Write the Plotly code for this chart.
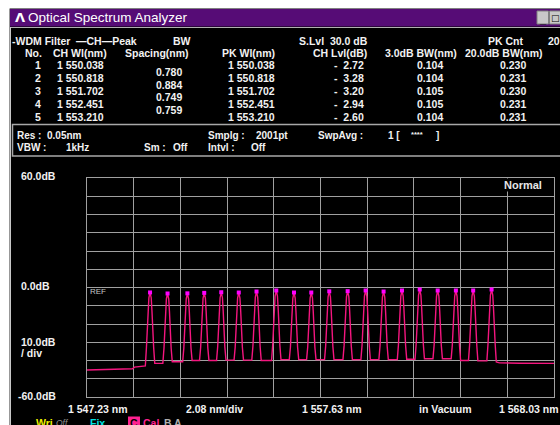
import plotly.graph_objects as go

# ---------------- data ----------------
ch_no = [1, 2, 3, 4, 5]
ch_wl = [1550.038, 1550.818, 1551.702, 1552.451, 1553.210]
spacing = [0.780, 0.884, 0.749, 0.759]
pk_wl_tab = [1550.038, 1550.818, 1551.702, 1552.451, 1553.210]
ch_lvl = [-2.72, -3.28, -3.20, -2.94, -2.60]
bw3 = [0.104, 0.104, 0.105, 0.105, 0.104]
bw20 = [0.230, 0.231, 0.230, 0.231, 0.231]

# 20 detected peaks (wavelength nm, level dB)
peak_wl = [1550.038, 1550.818, 1551.702, 1552.451, 1553.210, 1553.99, 1554.78,
           1555.66, 1556.45, 1557.22, 1558.02, 1558.84, 1559.64, 1560.44,
           1561.26, 1562.05, 1562.85, 1563.66, 1564.43, 1565.25]
peak_db = [-2.72, -3.28, -3.20, -2.94, -2.60, -2.75, -2.2, -1.65, -2.75, -2.75,
           -2.1, -2.0, -1.65, -2.2, -1.65, -1.1, -1.65, -1.65, -1.65, -1.1]
# floor level left of each peak, between peaks, and right of the last one
valley_db = [-43.0, -41.6, -40.7, -40.0, -40.0, -39.8, -39.8, -40.0, -39.5, -39.5,
             -39.5, -39.5, -39.5, -39.5, -39.5, -39.3, -39.0, -39.0, -40.0, -40.2, -40.8]
# peak profile: offset (nm) and level below the peak (dB)
prof_off = [-0.16, -0.115, -0.085, -0.052, 0.0, 0.052, 0.085, 0.115, 0.16]
prof_rel = [-30.0, -20.0, -10.0, -3.0, 0.0, -3.0, -10.0, -20.0, -30.0]
base_half = 0.21
# noise floor outside the channel band
left_floor_wl = [1547.23, 1548.0, 1548.8, 1549.25, 1549.35, 1549.75]
left_floor_db = [-45.2, -45.0, -44.8, -44.5, -43.6, -43.4]
right_floor_wl = [1565.6, 1566.5, 1567.3, 1568.03]
right_floor_db = [-41.3, -41.5, -41.5, -41.6]

x_start, x_stop, x_div = 1547.23, 1568.03, 2.08

# build trace polyline
wl = list(left_floor_wl)
db = list(left_floor_db)
for i, (c, L) in enumerate(zip(peak_wl, peak_db)):
    wl.append(c - base_half); db.append(valley_db[i])
    for o, r in zip(prof_off, prof_rel):
        wl.append(c + o); db.append(L + r)
    wl.append(c + base_half); db.append(valley_db[i + 1])
wl += right_floor_wl
db += right_floor_db

# ---------------- figure ----------------
W, H = 560, 425
L_, R_, T_, B_ = 87, 6, 178, 28
PW, PH = W - L_ - R_, H - T_ - B_

def px(x):                   # page pixel -> paper
    return (x - L_) / PW

def py(y):
    return (H - B_ - y) / PH

FONT = "Liberation Sans Narrow, Liberation Sans, Arial, sans-serif"
WHITE = "#f2f2f2"
GRID = "#a0a0a0"
FS = 10.5

fig = go.Figure()
fig.add_trace(go.Scatter(x=wl, y=db, mode="lines",
                         line=dict(color="#f4167f", width=1.4),
                         hoverinfo="skip", showlegend=False))
fig.add_trace(go.Scatter(x=peak_wl, y=peak_db, mode="markers",
                         marker=dict(symbol="square", size=4, color="#ff00ff", line=dict(width=0)),
                         hoverinfo="skip", showlegend=False))

shapes = []
def rect(x0, y0, x1, y1, fill=None, line=None, lw=1):
    shapes.append(dict(type="rect", xref="paper", yref="paper",
                       x0=px(x0), x1=px(x1), y0=py(y1), y1=py(y0),
                       fillcolor=fill if fill else "rgba(0,0,0,0)",
                       line=dict(color=line if line else "rgba(0,0,0,0)", width=lw if line else 0),
                       layer="below"))
def hline(x0, x1, y, color, lw=1):
    shapes.append(dict(type="line", xref="paper", yref="paper",
                       x0=px(x0), x1=px(x1), y0=py(y), y1=py(y),
                       line=dict(color=color, width=lw), layer="below"))
def vline(x, y0, y1, color, lw=1):
    shapes.append(dict(type="line", xref="paper", yref="paper",
                       x0=px(x), x1=px(x), y0=py(y0), y1=py(y1),
                       line=dict(color=color, width=lw), layer="below"))

# white surroundings
rect(0, 0, W, 8.6, fill="white")
rect(0, 0, 9.6, H, fill="white")
# title bar
rect(10, 9, W, 26.5, fill="#560c76")
hline(10, W, 27.5, "#b0b0b0", 1)
vline(10.5, 27, H, "#c8c8c8", 1)
# window buttons
rect(537, 11, 548.5, 24, fill="#c8c8c8", line="#808080", lw=1)
rect(549.5, 11, 562, 24, fill="#c8c8c8", line="#808080", lw=1)
# info box
rect(12.5, 124.5, 562, 156, line="#a8a8a8", lw=1.5)

ann = []
def txt(x, y, s, size=FS, color=WHITE, anchor="left", bold=True, family=FONT, bg=None):
    d = dict(xref="paper", yref="paper", x=px(x), y=py(y),
             text=("<b>%s</b>" % s) if bold else s, showarrow=False,
             xanchor=anchor, yanchor="middle", borderpad=0,
             font=dict(size=size, color=color, family=family))
    if bg:
        d["bgcolor"] = bg
    ann.append(d)

# title
txt(14, 17.5, "Λ", size=13, color="white", bold=True, family="DejaVu Sans")
txt(27, 17.5, "Optical Spectrum Analyzer", size=13.5, color="white", bold=False,
    family="Liberation Sans, Arial")
txt(543, 19, "_", size=11, color="black", anchor="center", family="Liberation Sans")
txt(555, 17.5, "□", size=9, color="black", anchor="center", family="DejaVu Sans", bold=False)

# table header
txt(11, 41, "-WDM Filter")
txt(75, 41, "—CH—Peak")
txt(182, 41, "BW", anchor="center")
txt(298, 41, "S.Lvl  30.0 dB")
txt(506, 41, "PK Cnt", anchor="center")
txt(547, 41, "20")
txt(33, 53, "No.", anchor="center")
txt(80, 53, "CH Wl(nm)", anchor="center")
txt(157, 53, "Spacing(nm)", anchor="center")
txt(276, 53, "PK Wl(nm)", anchor="right")
txt(368, 53, "CH Lvl(dB)", anchor="right")
txt(421, 53, "3.0dB BW(nm)", anchor="center")
txt(504, 53, "20.0dB BW(nm)", anchor="center")

row_y = [65.5, 78.3, 91.0, 103.8, 116.6]
for i in range(5):
    y = row_y[i]
    txt(38, y, str(ch_no[i]), anchor="center")
    w = "%.3f" % ch_wl[i]
    txt(105, y, w[0] + " " + w[1:], anchor="right")
    p = "%.3f" % pk_wl_tab[i]
    txt(276, y, p[0] + " " + p[1:], anchor="right")
    txt(365, y, "-  %.2f" % abs(ch_lvl[i]), anchor="right")
    txt(430, y, "%.3f" % bw3[i], anchor="center")
    txt(513, y, "%.3f" % bw20[i], anchor="center")
for i in range(4):
    txt(169, (row_y[i] + row_y[i + 1]) / 2, "%.3f" % spacing[i], anchor="center")

# settings box
BS = 10
r1, r2 = 136.0, 147.4
txt(16, r1, "Res :  0.05nm", size=BS)
txt(16, r2, "VBW :", size=BS)
txt(65, r2, "1kHz", size=BS)
txt(167, r2, "Sm :", anchor="right", size=BS)
txt(172, r2, "Off", size=BS)
txt(207, r1, "Smplg :", size=BS)
txt(255, r1, "2001pt", size=BS)
txt(207, r2, "Intvl :", size=BS)
txt(250, r2, "Off", size=BS)
txt(317, r1, "SwpAvg :", size=BS)
txt(387, r1, "1 [", size=BS)
txt(410, r1 - 2, "****", size=7.5)
txt(435, r1, "]", size=BS)

# level labels
txt(20, 176, "60.0dB")
txt(20, 286, "0.0dB")
txt(20, 341.7, "10.0dB")
txt(20, 353, "/ div")
txt(17, 396, "-60.0dB")
txt(89, 291, "REF", size=8, color="#c8c8c8", bold=False, family="Liberation Sans")
txt(543, 185, "Normal", anchor="right", color="#e6e6e6", bg="black", size=11)

# wavelength labels
txt(67, 409, "1 547.23 nm")
txt(185, 409, "2.08 nm/div")
txt(301, 409, "1 557.63 nm")
txt(418, 409, "in Vacuum")
txt(559.5, 409, "1 568.03 nm", anchor="right")

# status row (cut at the bottom, as in the screen capture)
txt(35, 423, "Wri", color="#f0f000")
txt(55, 423, "<i>Off</i>", size=8.5, color="#909090", bold=False, family="Liberation Sans")
txt(89, 423, "Fix", color="#00e0e0")
rect(128, 416.5, 140, 430, fill="#ff2090")
txt(134, 423, "C", color="black", anchor="center")
txt(142, 423, "Cal", color="#ff2090")
txt(163, 423, "B A", color="#b0b0b0")

fig.update_layout(
    width=W, height=H, autosize=False,
    margin=dict(l=L_, r=R_, t=T_, b=B_, pad=0),
    paper_bgcolor="black", plot_bgcolor="black",
    showlegend=False,
    shapes=shapes, annotations=ann,
    xaxis=dict(range=[x_start, x_stop], tick0=x_start, dtick=x_div,
               showgrid=True, gridcolor=GRID, gridwidth=1,
               showticklabels=False, ticks="", zeroline=False,
               showline=True, linecolor=GRID, linewidth=1, mirror=True, fixedrange=True),
    yaxis=dict(range=[-60, 60], tick0=-60, dtick=10,
               showgrid=True, gridcolor=GRID, gridwidth=1,
               showticklabels=False, ticks="", zeroline=False,
               showline=True, linecolor=GRID, linewidth=1, mirror=True, fixedrange=True),
)

fig.write_html("out.html", config={"displayModeBar": False},
               post_script="document.body.style.margin='0';document.body.style.overflow='hidden';")
